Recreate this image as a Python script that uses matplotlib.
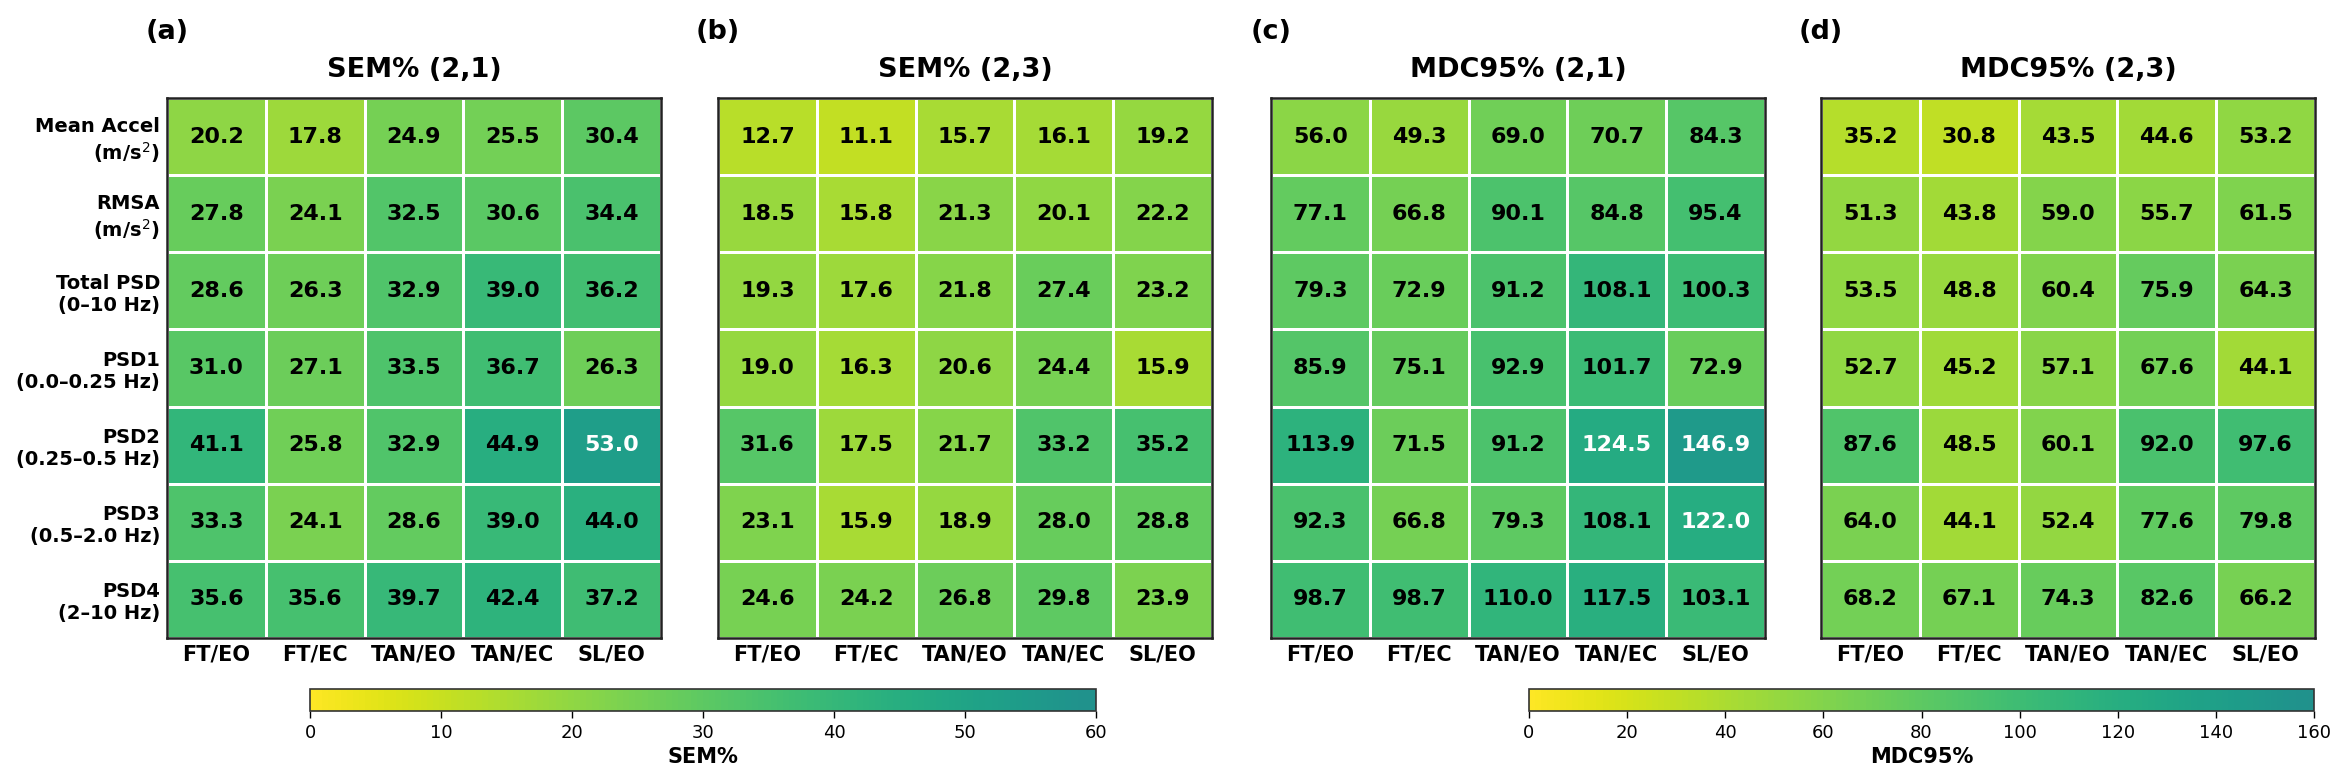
import numpy as np
import matplotlib
matplotlib.use("Agg")
import matplotlib.pyplot as plt
from matplotlib.colors import LinearSegmentedColormap, Normalize
import matplotlib.cm as cm

conditions = ["FT/EO", "FT/EC", "TAN/EO", "TAN/EC", "SL/EO"]
metrics = ["Mean Accel\n(m/s$^2$)", "RMSA\n(m/s$^2$)", "Total PSD\n(0–10 Hz)",
           "PSD1\n(0.0–0.25 Hz)", "PSD2\n(0.25–0.5 Hz)", "PSD3\n(0.5–2.0 Hz)",
           "PSD4\n(2–10 Hz)"]

sem_21 = [
    [20.2, 17.8, 24.9, 25.5, 30.4],
    [27.8, 24.1, 32.5, 30.6, 34.4],
    [28.6, 26.3, 32.9, 39.0, 36.2],
    [31.0, 27.1, 33.5, 36.7, 26.3],
    [41.1, 25.8, 32.9, 44.9, 53.0],
    [33.3, 24.1, 28.6, 39.0, 44.0],
    [35.6, 35.6, 39.7, 42.4, 37.2],
]
sem_23 = [
    [12.7, 11.1, 15.7, 16.1, 19.2],
    [18.5, 15.8, 21.3, 20.1, 22.2],
    [19.3, 17.6, 21.8, 27.4, 23.2],
    [19.0, 16.3, 20.6, 24.4, 15.9],
    [31.6, 17.5, 21.7, 33.2, 35.2],
    [23.1, 15.9, 18.9, 28.0, 28.8],
    [24.6, 24.2, 26.8, 29.8, 23.9],
]
mdc_21 = [
    [56.0, 49.3, 69.0, 70.7, 84.3],
    [77.1, 66.8, 90.1, 84.8, 95.4],
    [79.3, 72.9, 91.2, 108.1, 100.3],
    [85.9, 75.1, 92.9, 101.7, 72.9],
    [113.9, 71.5, 91.2, 124.5, 146.9],
    [92.3, 66.8, 79.3, 108.1, 122.0],
    [98.7, 98.7, 110.0, 117.5, 103.1],
]
mdc_23 = [
    [35.2, 30.8, 43.5, 44.6, 53.2],
    [51.3, 43.8, 59.0, 55.7, 61.5],
    [53.5, 48.8, 60.4, 75.9, 64.3],
    [52.7, 45.2, 57.1, 67.6, 44.1],
    [87.6, 48.5, 60.1, 92.0, 97.6],
    [64.0, 44.1, 52.4, 77.6, 79.8],
    [68.2, 67.1, 74.3, 82.6, 66.2],
]

titles = ["SEM% (2,1)", "SEM% (2,3)", "MDC95% (2,1)", "MDC95% (2,3)"]
panel_labels = ["(a)", "(b)", "(c)", "(d)"]
datasets = [sem_21, sem_23, mdc_21, mdc_23]
vmaxes = [60, 60, 160, 160]

plt.rcParams['font.family'] = ['DejaVu Sans']

vir = plt.get_cmap('viridis')
cmap = LinearSegmentedColormap.from_list('trunc_vir_r', vir(np.linspace(1.0, 0.5, 256)))

W, H = 2346, 780
fig = plt.figure(figsize=(W / 100, H / 100), dpi=100)

lefts_px = [167, 718, 1271, 1821]
ax_w_px = 494
top_px, bot_px = 98, 638

for i, (data, vmax) in enumerate(zip(datasets, vmaxes)):
    arr = np.array(data)
    ax = fig.add_axes([lefts_px[i] / W, 1 - bot_px / H, ax_w_px / W, (bot_px - top_px) / H])
    norm = Normalize(0, vmax)
    ax.pcolormesh(np.arange(arr.shape[1] + 1), np.arange(arr.shape[0] + 1), arr,
                  cmap=cmap, norm=norm, edgecolors='white', linewidth=2)
    ax.set_xlim(0, arr.shape[1])
    ax.set_ylim(arr.shape[0], 0)
    for r in range(arr.shape[0]):
        for c in range(arr.shape[1]):
            v = arr[r, c]
            col = 'white' if v > 0.75 * vmax else 'black'
            ax.text(c + 0.5, r + 0.5, f"{v:.1f}", ha='center', va='center',
                    fontsize=16, fontweight='bold', color=col)
    ax.set_xticks(np.arange(arr.shape[1]) + 0.5)
    ax.set_xticklabels(conditions, fontsize=15, fontweight='bold')
    ax.set_yticks(np.arange(arr.shape[0]) + 0.5)
    if i == 0:
        ax.set_yticklabels(metrics, fontsize=14, fontweight='bold')
    else:
        ax.set_yticklabels([])
    ax.tick_params(length=0, pad=5)
    for s in ax.spines.values():
        s.set_visible(True)
        s.set_linewidth(1.8)
        s.set_color('#222222')
    cx = (lefts_px[i] + ax_w_px / 2) / W
    fig.text(cx, 1 - 70 / H, titles[i], ha='center', va='center',
             fontsize=19.5, fontweight='bold')
    fig.text(lefts_px[i] / W, 1 - 32 / H, panel_labels[i], ha='center', va='center',
             fontsize=19.5, fontweight='bold')

cbar_specs = [(310, 1096, 60, "SEM%", [0, 10, 20, 30, 40, 50, 60]),
              (1529, 2314, 160, "MDC95%", [0, 20, 40, 60, 80, 100, 120, 140, 160])]
for x0, x1, vmax, label, ticks in cbar_specs:
    cax = fig.add_axes([x0 / W, 1 - 711 / H, (x1 - x0) / W, 22 / H])
    sm = cm.ScalarMappable(norm=Normalize(0, vmax), cmap=cmap)
    cb = fig.colorbar(sm, cax=cax, orientation='horizontal', ticks=ticks)
    cb.ax.tick_params(labelsize=13, length=5, width=1, pad=4)
    cb.outline.set_linewidth(1.2)
    cb.outline.set_edgecolor('#333333')
    cb.set_label(label, fontsize=15, fontweight='bold', labelpad=4)

fig.savefig("out.png", dpi=100)
